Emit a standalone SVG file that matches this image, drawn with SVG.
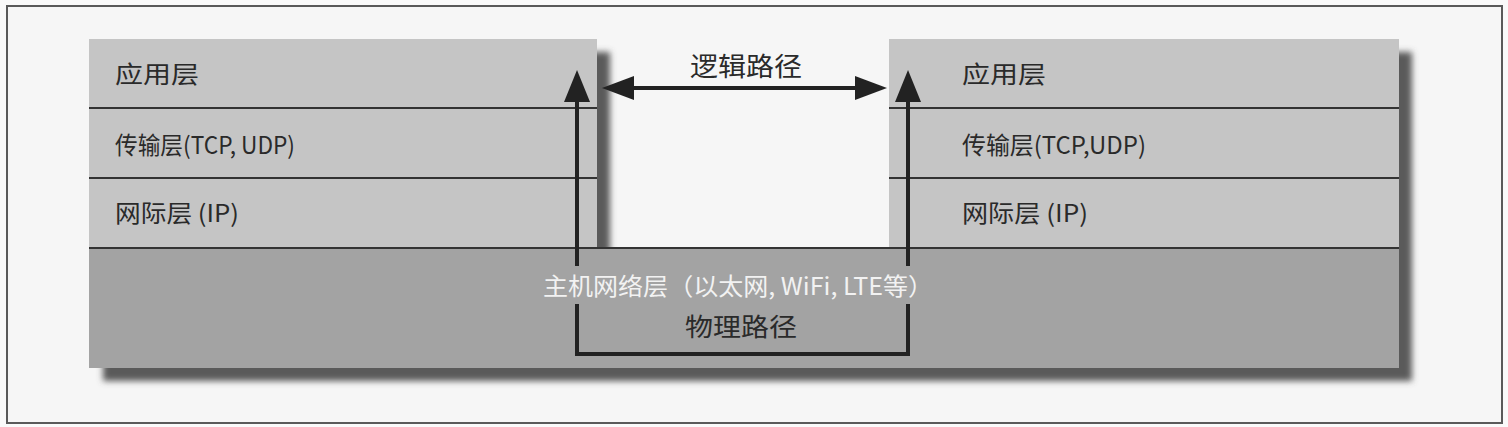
<svg xmlns="http://www.w3.org/2000/svg" width="1508" height="427" viewBox="0 0 1508 427">
<style>
.t{font-family:"Noto Sans CJK SC","Liberation Sans",sans-serif;font-size:24px;fill:#2a2a2a}
.w{fill:#f2f2f2}
.sep{stroke:#333;stroke-width:2}
.ar{stroke:#222;stroke-width:4;fill:none}
.hd{fill:#222}
</style>
<defs>
<filter id="blur" x="-5%" y="-10%" width="110%" height="120%"><feGaussianBlur stdDeviation="3"/></filter>
</defs>
<rect x="0" y="0" width="1508" height="427" fill="#fafafa"/>
<rect id="frame" x="7" y="6" width="1495" height="417" fill="#f6f6f6" stroke="#5a5a5a" stroke-width="2"/>
<path d="M102,52 H610 V261 H902 V52 H1412 V381 H103 Z" fill="#5a5a5a" filter="url(#blur)"/>
<g id="left-stack">
<rect x="89" y="39" width="508" height="209" fill="#c5c5c5"/>
<line class="sep" x1="89" y1="108" x2="597" y2="108"/>
<line class="sep" x1="89" y1="178" x2="597" y2="178"/>
<text class="t" x="115" y="83" textLength="84" lengthAdjust="spacingAndGlyphs">应用层</text>
<text class="t" x="115" y="154" textLength="180" lengthAdjust="spacingAndGlyphs">传输层(TCP, UDP)</text>
<text class="t" x="115" y="222" textLength="124" lengthAdjust="spacingAndGlyphs">网际层 (IP)</text>
</g>
<g id="right-stack">
<rect x="889" y="39" width="510" height="209" fill="#c5c5c5"/>
<line class="sep" x1="889" y1="108" x2="1399" y2="108"/>
<line class="sep" x1="889" y1="178" x2="1399" y2="178"/>
<text class="t" x="962" y="83" textLength="84" lengthAdjust="spacingAndGlyphs">应用层</text>
<text class="t" x="962" y="154" textLength="184" lengthAdjust="spacingAndGlyphs">传输层(TCP,UDP)</text>
<text class="t" x="962" y="222" textLength="126" lengthAdjust="spacingAndGlyphs">网际层 (IP)</text>
</g>
<g id="host-layer">
<rect x="89" y="248" width="1310" height="120" fill="#a3a3a3"/>
<line class="sep" x1="89" y1="248" x2="1399" y2="248"/>
<text class="t w" x="543" y="295" textLength="390" lengthAdjust="spacingAndGlyphs">主机网络层（以太网, WiFi, LTE等）</text>
</g>
<g id="connectors">
<line class="ar" x1="630" y1="88" x2="858" y2="88"/>
<polygon class="hd" points="602,88 634,76 634,100"/>
<polygon class="hd" points="887,88 855,76 855,100"/>
<text class="t" x="690" y="76" textLength="112" lengthAdjust="spacingAndGlyphs" style="font-size:26px">逻辑路径</text>
<line class="ar" x1="577" y1="98" x2="577" y2="266"/>
<polyline class="ar" points="577,304 577,354 908,354 908,304"/>
<line class="ar" x1="908" y1="98" x2="908" y2="266"/>
<polygon class="hd" points="577,70 564,102 590,102"/>
<polygon class="hd" points="908,70 895,102 921,102"/>
<text class="t" x="685" y="336" textLength="112" lengthAdjust="spacingAndGlyphs" style="font-size:25px">物理路径</text>
</g>
</svg>
